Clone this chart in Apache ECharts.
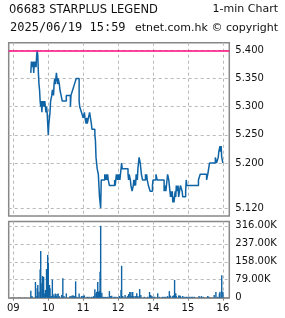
<!DOCTYPE html>
<html><head><meta charset="utf-8">
<script src="https://cdn.jsdelivr.net/npm/echarts@6/dist/echarts.min.js"></script>
<style>html,body{margin:0;padding:0;background:#fff}#c{width:285px;height:318px}</style>
</head><body><div id="c"></div>
<script>
const titleLine1 = '06683 STARPLUS LEGEND';
const titleRight = '1-min Chart';
const titleLine2 = '2025/06/19 15:59';
const copyrightText = 'etnet.com.hk \u00a9 copyright';
const hourTimes = ['09:00','10:00','11:00','12:00','14:00','15:00','16:00'];
const priceTicks = [5.12, 5.20, 5.25, 5.30, 5.35, 5.40];
const volumeTicks = [0, 79000, 158000, 237000, 316000];
const prevClose = 5.40;

const priceTimes = ['09:30','09:31','09:33','09:34','09:35','09:36','09:37','09:38','09:39','09:40','09:41','09:42','09:43','09:44','09:45','09:46','09:47','09:48','09:49','09:50','09:51','09:52','09:53','09:54','09:55','09:56','09:57','09:58','09:59','10:00','10:01','10:02','10:03','10:04','10:06','10:07','10:09','10:10','10:11','10:12','10:13','10:14','10:15','10:16','10:17','10:19','10:20','10:22','10:24','10:31','10:38','10:39','10:42','10:45','10:48','10:53','10:54','10:57','11:00','11:02','11:03','11:05','11:06','11:07','11:09','11:11','11:14','11:15','11:20','11:21','11:22','11:23','11:24','11:26','11:28','11:30','11:31','11:37','11:39','11:40','11:41','11:42','11:43','11:45','11:54','11:55','11:56','11:57','11:59','12:00','13:01','13:02','13:03','13:06','13:07','13:17','13:18','13:19','13:21','13:22','13:24','13:26','13:27','13:28','13:29','13:30','13:31','13:33','13:34','13:35','13:36','13:38','13:39','13:40','13:42','13:47','13:48','13:49','13:50','13:52','13:55','13:59','14:00','14:05','14:07','14:19','14:21','14:22','14:23','14:25','14:27','14:28','14:29','14:30','14:31','14:32','14:33','14:34','14:35','14:36','14:37','14:38','14:39','14:40','14:42','14:43','14:44','14:47','14:50','14:51','14:56','14:57','14:58','15:18','15:21','15:32','15:34','15:37','15:47','15:49','15:52','15:53','15:55','15:56','15:57','15:58','16:00'];
const priceValues = [5.36,5.38,5.37,5.38,5.36,5.38,5.37,5.38,5.37,5.39,5.40,5.39,5.36,5.34,5.33,5.31,5.30,5.31,5.29,5.31,5.30,5.31,5.30,5.31,5.30,5.29,5.30,5.29,5.27,5.25,5.27,5.28,5.29,5.31,5.32,5.33,5.32,5.34,5.35,5.34,5.35,5.36,5.35,5.34,5.35,5.34,5.33,5.32,5.31,5.32,5.30,5.32,5.33,5.34,5.35,5.31,5.30,5.29,5.28,5.29,5.28,5.27,5.28,5.27,5.28,5.29,5.27,5.26,5.25,5.24,5.21,5.20,5.19,5.18,5.14,5.12,5.17,5.18,5.17,5.18,5.17,5.18,5.17,5.16,5.17,5.16,5.17,5.18,5.17,5.18,5.17,5.18,5.17,5.20,5.19,5.18,5.17,5.18,5.17,5.16,5.15,5.16,5.17,5.16,5.17,5.16,5.18,5.17,5.19,5.20,5.21,5.20,5.19,5.18,5.17,5.18,5.17,5.18,5.17,5.16,5.15,5.16,5.17,5.18,5.17,5.15,5.16,5.15,5.16,5.18,5.17,5.16,5.15,5.14,5.15,5.14,5.15,5.13,5.14,5.13,5.14,5.15,5.14,5.16,5.15,5.16,5.14,5.16,5.15,5.14,5.15,5.17,5.16,5.17,5.18,5.17,5.18,5.20,5.21,5.20,5.21,5.22,5.23,5.22,5.23,5.21,5.20];

const volumeTimes = ['09:30','09:32','09:38','09:39','09:41','09:42','09:44','09:46','09:47','09:49','09:50','09:52','09:54','09:55','09:57','09:59','10:00','10:02','10:03','10:05','10:07','10:08','10:10','10:12','10:14','10:15','10:17','10:19','10:23','10:25','10:27','10:31','10:37','10:39','10:41','10:43','10:45','10:47','10:49','10:53','10:57','10:58','11:00','11:02','11:07','11:10','11:14','11:17','11:18','11:20','11:22','11:23','11:25','11:26','11:28','11:29','11:30','11:32','11:34','11:36','11:38','11:40','11:42','11:45','11:47','11:49','11:53','11:56','11:59','13:02','13:05','13:06','13:08','13:12','13:16','13:18','13:20','13:22','13:23','13:25','13:27','13:30','13:32','13:34','13:37','13:39','13:45','13:51','13:54','13:56','13:58','14:01','14:03','14:08','14:11','14:16','14:19','14:22','14:25','14:28','14:30','14:34','14:35','14:37','14:39','14:40','14:44','14:46','14:47','14:51','14:54','14:57','15:00','15:03','15:06','15:08','15:11','15:19','15:23','15:26','15:34','15:36','15:45','15:48','15:51','15:54','15:55','15:58','16:00'];
const volumeValues = [31000,7000,69000,8000,41000,56000,26000,124000,205000,63000,95000,92000,19000,34000,126000,188000,154000,56000,41000,7000,80000,16000,10000,19000,7000,16000,19000,7000,12000,85000,7000,19000,6000,7000,10000,10000,7000,72000,4000,19000,6000,7000,9000,10000,4000,4000,4000,4000,7000,37000,19000,26000,69000,26000,29000,114000,316000,22000,4000,3000,4000,3000,4000,29000,7000,9000,4000,4000,3000,7000,34000,140000,7000,12000,7000,16000,25000,25000,7000,25000,7000,7000,20000,7000,38000,12000,4000,4000,25000,12000,7000,4000,4000,20000,4000,4000,4000,4000,7000,29000,9000,7000,10000,78000,20000,7000,10000,10000,7000,7000,4000,4000,4000,4000,4000,4000,4000,7000,7000,4000,7000,4000,12000,25000,4000,19000,26000,99000,26000];

function pad(n){return (n<10?'0':'')+n;}
function minuteRange(h0,m0,h1,m1){const out=[];for(let t=h0*60+m0;t<=h1*60+m1;t++){out.push(pad(Math.floor(t/60))+':'+pad(t%60));}return out;}
const categories = [].concat(minuteRange(8,52,12,0), minuteRange(13,1,16,11));
const isHour = (i, v) => hourTimes.indexOf(v) >= 0;

const BLUE = '#0f64a6';
const GRIDC = '#b8b8b8';
const BORDER = '#888888';
const AXFONT = 'DejaVu Sans';

const chart = echarts.init(document.getElementById('c'), null, {renderer:'canvas'});
chart.setOption({
  animation: false,
  backgroundColor: '#fff',
  graphic: [
    {type:'text', left: 9, top: 4, style:{text: titleLine1, font: '11.5px "DejaVu Sans"', fill:'#111'}},
    {type:'text', right: 7, top: 4, style:{text: titleRight, font: '11px "DejaVu Sans"', fill:'#111'}},
    {type:'text', left: 10, top: 22, style:{text: titleLine2, font: '12px "DejaVu Sans Mono"', fill:'#111'}},
    {type:'text', right: 7, top: 23, style:{text: copyrightText, font: '11px "DejaVu Sans"', fill:'#111'}}
  ],
  grid: [
    {left: 8.7, top: 42.7, width: 220.6, height: 173.3, show: true, borderColor: BORDER, borderWidth: 1.5, backgroundColor:'#fff'},
    {left: 8.7, top: 221.5, width: 220.6, height: 76.2, show: true, borderColor: BORDER, borderWidth: 1.5, backgroundColor:'#fff'}
  ],
  xAxis: [
    {gridIndex: 0, type: 'category', data: categories, boundaryGap: false,
     axisLine:{show:false}, axisTick:{show:false}, axisLabel:{show:false},
     splitLine:{show:true, interval: isHour, lineStyle:{color: GRIDC, type:[3,3], width:1}}},
    {gridIndex: 1, type: 'category', data: categories, boundaryGap: false,
     axisLine:{show:true, lineStyle:{color: BORDER, width:1.5}},
     axisTick:{show:true, interval: isHour, length: 3, lineStyle:{color: BORDER}},
     axisLabel:{show:true, interval: isHour, formatter: v => v.slice(0,2), color:'#111', fontFamily: AXFONT, fontSize: 10, margin: 6},
     splitLine:{show:true, interval: isHour, lineStyle:{color: GRIDC, type:[3,3], width:1}}}
  ],
  yAxis: [
    {gridIndex: 0, type: 'value', position: 'right', min: 5.106, max: 5.4135,
     axisLine:{show:false},
     axisTick:{show:false, customValues: priceTicks},
     axisLabel:{customValues: priceTicks, formatter: v => v.toFixed(3), color:'#111', fontFamily: AXFONT, fontSize: 10, margin: 6},
     splitLine:{show:true, lineStyle:{color: GRIDC, type:[3,3], width:1}}},
    {gridIndex: 1, type: 'value', position: 'right', min: 0, max: 335000,
     axisLine:{show:false},
     axisTick:{show:false, customValues: volumeTicks},
     axisLabel:{customValues: volumeTicks, formatter: v => v === 0 ? '0' : (v/1000).toFixed(2) + 'K', color:'#111', fontFamily: AXFONT, fontSize: 10, margin: 6},
     splitLine:{show:true, lineStyle:{color: GRIDC, type:[3,3], width:1}}}
  ],
  series: [
    {type:'line', xAxisIndex:0, yAxisIndex:0, step:'end', showSymbol:false, symbol:'none',
     data: priceTimes.map((t,i)=>[t, priceValues[i]]),
     lineStyle:{color: BLUE, width: 1.5}, itemStyle:{color: BLUE},
     markLine:{silent:true, symbol:'none', label:{show:false}, data:[{yAxis: prevClose}],
       lineStyle:{color:'#ff0a7e', type:'solid', width:1.5}}},
    {type:'bar', xAxisIndex:1, yAxisIndex:1, barWidth: 1.4,
     data: volumeTimes.map((t,i)=>[t, volumeValues[i]]),
     itemStyle:{color: BLUE}}
  ]
});
</script></body></html>
